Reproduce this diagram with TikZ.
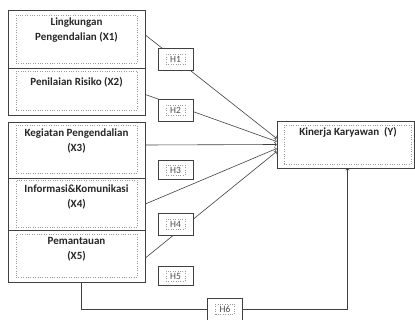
\documentclass[tikz,border=0pt]{standalone}
\usepackage{fontspec}
\setmainfont{Carlito}
\usetikzlibrary{positioning}
\tikzset{
  outerbox/.style={draw=black!75, line width=0.7pt, minimum width=137pt, inner sep=0pt},
  innerbox/.style={draw=black!40, dotted, minimum width=121pt, inner sep=0pt},
  lbl/.style={font=\fontsize{11}{15}\selectfont\bfseries, text=black!85, align=center, inner sep=0pt},
  hbox/.style={draw=black!75, line width=0.6pt, fill=white, minimum width=35pt, minimum height=22pt},
  hin/.style={draw=black!40, dotted, font=\fontsize{9.5}{9.5}\selectfont, text=black!70, inner sep=1pt, minimum width=19pt, minimum height=10pt},
  link/.style={draw=black!75, line width=0.6pt},
}
\begin{document}
\begin{tikzpicture}[x=1pt, y=-1pt]
\useasboundingbox (0,0) rectangle (415,320);
% variabel X
\node[outerbox, minimum height=58pt] (x1) at (76.5,39) {};
\node[outerbox, minimum height=47pt] (x2) at (76.5,91.5) {};
\node[outerbox, minimum height=56pt] (x3) at (76.5,150) {};
\node[outerbox, minimum height=52pt] (x4) at (76.5,204) {};
\node[outerbox, minimum height=52pt] (x5) at (76.5,256) {};
\node[innerbox, minimum height=48pt] (i1) at (76.5,39) {};
\node[innerbox, minimum height=39pt] (i2) at (76.5,90.5) {};
\node[innerbox, minimum height=48pt] (i3) at (76.5,149) {};
\node[innerbox, minimum height=47pt] (i4) at (76.5,203.5) {};
\node[innerbox, minimum height=43pt] (i5) at (76.5,255.5) {};
\node[lbl] (t1) at (76.5,30.5) {Lingkungan\\Pengendalian (X1)};
\node[lbl] (t2) at (76.5,82) {Penilaian Risiko (X2)};
\node[lbl] (t3) at (76.5,140.5) {Kegiatan Pengendalian\\(X3)};
\node[lbl] (t4) at (76.5,196.5) {Informasi\&Komunikasi\\(X4)};
\node[lbl] (t5) at (76.5,249.5) {Pemantauan\\(X5)};
% variabel Y
\node[outerbox, minimum height=47pt] (yy) at (345.5,144.5) {};
\node[innerbox, minimum width=127pt, minimum height=39pt] (yi) at (347.5,144.5) {};
\node[lbl] (ty) at (348,132) {Kinerja Karyawan\ \ (Y)};
% hubungan
\draw[link, ->] ([yshift=4pt]x1.east) -- ([yshift=6pt]yy.west);
\draw[link, ->] ([yshift=-3pt]x2.east) -- ([yshift=3pt]yy.west);
\draw[link, ->] ([yshift=5pt]x3.east) -- (yy.west);
\draw[link, ->] (x4.east) -- ([yshift=-4pt]yy.west);
\draw[link, ->] ([yshift=-2pt]x5.east) -- ([yshift=-7pt]yy.west);
% hipotesis
\node[hbox] (h1) at (175.5,59.5) {};
\node[hbox] (h2) at (175.5,110.5) {};
\node[hbox, minimum height=19pt] (h3) at (175.5,170) {};
\node[hbox] (h4) at (175.5,224) {};
\node[hbox, minimum height=19pt] (h5) at (175.5,276) {};
\node[hbox] (h6) at (225,309) {};
\node[hin] (h1t) at (h1) {H1};
\node[hin] (h2t) at (h2) {H2};
\node[hin] (h3t) at (h3) {H3};
\node[hin] (h4t) at (h4) {H4};
\node[hin] (h5t) at (h5) {H5};
\node[hin] (h6t) at (h6) {H6};
\draw[link, ->] ([xshift=5pt]x5.south) |- (h6) -| ([xshift=2pt]yy.south);
\end{tikzpicture}
\end{document}
